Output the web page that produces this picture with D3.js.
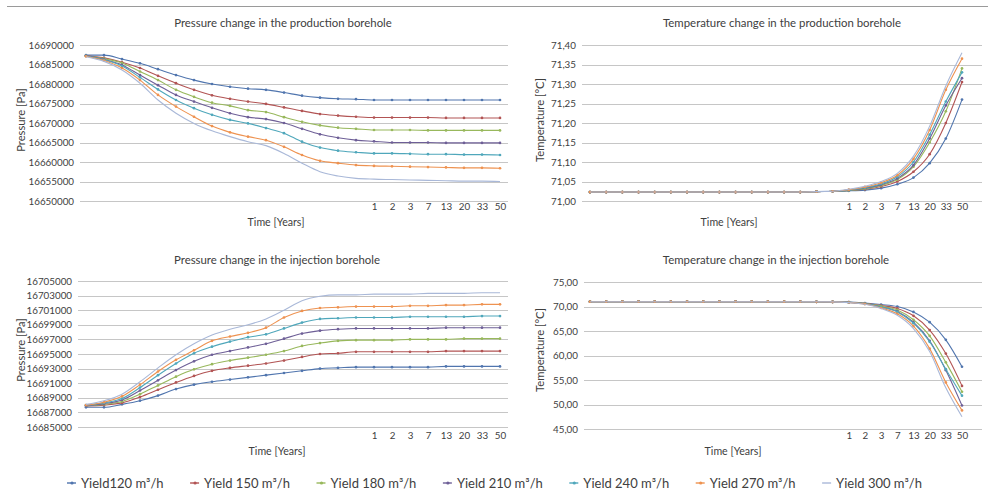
<!DOCTYPE html>
<html lang="en">
<head>
    <meta charset="UTF-8">
    <title>Borehole pressure and temperature</title>
    <style>
        html, body { margin: 0; padding: 0; background: #fff; overflow: hidden; }
        text { font-family: Lato, "Open Sans", sans-serif; fill: #404040; }
        .grid line { stroke: #c6c6c6; stroke-width: 1; shape-rendering: crispEdges; }
    </style>
</head>
<body>
<script src="https://cdn.jsdelivr.net/npm/d3@7/dist/d3.min.js"></script>
<script>

    // x categories: 16 unlabeled steps, then years
    const xLabels = ['', '', '', '', '', '', '', '', '', '', '', '', '', '', '', '',
        '1', '2', '3', '7', '13', '20', '33', '50']

    const yieldNames = ['Yield120 m³/h', 'Yield 150 m³/h', 'Yield 180 m³/h', 'Yield 210 m³/h',
        'Yield 240 m³/h', 'Yield 270 m³/h', 'Yield 300 m³/h']
    const colors = ['#5075ae', '#b25454', '#98b85c', '#6e5f97', '#4fa7bb', '#ee9250', '#a9b8d8']

    const pressureProduction = [
        [16687400, 16687400, 16686400, 16685300, 16683800, 16682300, 16681000, 16680000, 16679300, 16678800, 16678500, 16677800, 16677000, 16676500, 16676200, 16676100, 16675900, 16675900, 16675900, 16675900, 16675900, 16675900, 16675900, 16675900],
        [16687200, 16686700, 16685600, 16684100, 16682100, 16680200, 16678500, 16677100, 16676200, 16675500, 16674900, 16674000, 16673100, 16672300, 16671900, 16671600, 16671400, 16671400, 16671400, 16671400, 16671300, 16671300, 16671300, 16671300],
        [16687200, 16686500, 16685400, 16683200, 16681000, 16678500, 16676700, 16675200, 16674400, 16673300, 16672800, 16671500, 16670300, 16669400, 16668800, 16668500, 16668200, 16668200, 16668200, 16668100, 16668100, 16668100, 16668100, 16668100],
        [16687300, 16686300, 16684900, 16682300, 16679700, 16677200, 16675500, 16673900, 16672500, 16671500, 16671000, 16670000, 16668500, 16667100, 16666200, 16665600, 16665300, 16665000, 16665000, 16665000, 16664900, 16664900, 16664900, 16664900],
        [16687200, 16686200, 16684600, 16681700, 16678600, 16675900, 16673800, 16672100, 16670800, 16669900, 16668700, 16667400, 16665200, 16663700, 16662900, 16662500, 16662200, 16662200, 16662100, 16662000, 16662000, 16661900, 16661900, 16661800],
        [16687100, 16686000, 16684100, 16681000, 16677200, 16674200, 16671600, 16669200, 16667600, 16666500, 16665600, 16663900, 16661800, 16660300, 16659700, 16659200, 16659000, 16658900, 16658800, 16658700, 16658600, 16658500, 16658500, 16658400],
        [16687000, 16685800, 16683600, 16680200, 16675900, 16672500, 16669900, 16668000, 16666500, 16665200, 16664200, 16662200, 16659700, 16657500, 16656400, 16655800, 16655600, 16655500, 16655400, 16655300, 16655200, 16655100, 16655100, 16655000]
    ]

    const temperatureProduction = [
        [71.023, 71.023, 71.023, 71.023, 71.023, 71.023, 71.023, 71.023, 71.023, 71.023, 71.023, 71.023, 71.023, 71.023, 71.024, 71.025, 71.026, 71.028, 71.033, 71.043, 71.060, 71.097, 71.160, 71.260],
        [71.023, 71.023, 71.023, 71.023, 71.023, 71.023, 71.023, 71.023, 71.023, 71.023, 71.023, 71.023, 71.023, 71.023, 71.024, 71.025, 71.027, 71.030, 71.037, 71.050, 71.075, 71.120, 71.200, 71.305],
        [71.023, 71.023, 71.023, 71.023, 71.023, 71.023, 71.023, 71.023, 71.023, 71.023, 71.023, 71.023, 71.023, 71.023, 71.024, 71.025, 71.027, 71.031, 71.040, 71.055, 71.088, 71.150, 71.230, 71.340],
        [71.023, 71.023, 71.023, 71.023, 71.023, 71.023, 71.023, 71.023, 71.023, 71.023, 71.023, 71.023, 71.023, 71.023, 71.024, 71.025, 71.028, 71.033, 71.042, 71.058, 71.092, 71.160, 71.245, 71.315],
        [71.023, 71.023, 71.023, 71.023, 71.023, 71.023, 71.023, 71.023, 71.023, 71.023, 71.023, 71.023, 71.023, 71.023, 71.024, 71.025, 71.028, 71.034, 71.044, 71.062, 71.100, 71.170, 71.255, 71.330],
        [71.023, 71.023, 71.023, 71.023, 71.023, 71.023, 71.023, 71.023, 71.023, 71.023, 71.023, 71.023, 71.023, 71.023, 71.024, 71.025, 71.029, 71.036, 71.047, 71.066, 71.108, 71.182, 71.285, 71.365],
        [71.023, 71.023, 71.023, 71.023, 71.023, 71.023, 71.023, 71.023, 71.023, 71.023, 71.023, 71.023, 71.023, 71.023, 71.024, 71.025, 71.030, 71.038, 71.050, 71.071, 71.115, 71.192, 71.295, 71.380]
    ]

    const pressureInjection = [
        [16687700, 16687700, 16688100, 16688600, 16689300, 16690200, 16690800, 16691200, 16691500, 16691800, 16692100, 16692400, 16692700, 16693000, 16693100, 16693200, 16693200, 16693200, 16693200, 16693200, 16693300, 16693300, 16693300, 16693300],
        [16687900, 16688000, 16688300, 16689100, 16690100, 16691100, 16692000, 16692700, 16693100, 16693400, 16693700, 16694100, 16694600, 16695000, 16695100, 16695300, 16695300, 16695300, 16695300, 16695300, 16695400, 16695400, 16695400, 16695400],
        [16687900, 16688100, 16688500, 16689500, 16690700, 16691900, 16692900, 16693600, 16694100, 16694500, 16694900, 16695400, 16696100, 16696500, 16696800, 16696900, 16696900, 16696900, 16697000, 16697000, 16697000, 16697100, 16697100, 16697100],
        [16687900, 16688200, 16688700, 16690000, 16691400, 16692800, 16694000, 16694900, 16695400, 16695900, 16696400, 16697100, 16697800, 16698200, 16698400, 16698500, 16698500, 16698500, 16698500, 16698500, 16698600, 16698600, 16698600, 16698600],
        [16688000, 16688300, 16688900, 16690400, 16692100, 16693700, 16695100, 16696000, 16696700, 16697300, 16697700, 16698500, 16699300, 16699800, 16699900, 16700000, 16700000, 16700000, 16700100, 16700100, 16700100, 16700100, 16700200, 16700200],
        [16688000, 16688400, 16689200, 16690800, 16692600, 16694200, 16695500, 16696800, 16697400, 16697900, 16698600, 16700000, 16700900, 16701300, 16701400, 16701500, 16701500, 16701500, 16701600, 16701600, 16701700, 16701700, 16701800, 16701800],
        [16688100, 16688600, 16689500, 16691200, 16693100, 16694900, 16696400, 16697600, 16698400, 16699000, 16699800, 16701000, 16702300, 16702900, 16703100, 16703100, 16703200, 16703200, 16703200, 16703300, 16703300, 16703300, 16703400, 16703400]
    ]

    const temperatureInjection = [
        [70.98, 70.98, 70.98, 70.98, 70.98, 70.98, 70.98, 70.98, 70.98, 70.98, 70.98, 70.98, 70.98, 70.98, 70.96, 70.94, 70.90, 70.70, 70.40, 70.00, 68.90, 66.80, 63.20, 57.70],
        [70.98, 70.98, 70.98, 70.98, 70.98, 70.98, 70.98, 70.98, 70.98, 70.98, 70.98, 70.98, 70.98, 70.98, 70.96, 70.94, 70.88, 70.65, 70.20, 69.60, 68.10, 65.20, 60.40, 53.80],
        [70.98, 70.98, 70.98, 70.98, 70.98, 70.98, 70.98, 70.98, 70.98, 70.98, 70.98, 70.98, 70.98, 70.98, 70.96, 70.94, 70.86, 70.60, 70.10, 69.30, 67.30, 64.00, 58.60, 52.60],
        [70.98, 70.98, 70.98, 70.98, 70.98, 70.98, 70.98, 70.98, 70.98, 70.98, 70.98, 70.98, 70.98, 70.98, 70.96, 70.94, 70.85, 70.55, 69.90, 69.00, 66.80, 63.00, 57.00, 49.80],
        [70.98, 70.98, 70.98, 70.98, 70.98, 70.98, 70.98, 70.98, 70.98, 70.98, 70.98, 70.98, 70.98, 70.98, 70.96, 70.94, 70.84, 70.55, 69.90, 68.90, 66.60, 62.80, 57.20, 51.80],
        [70.98, 70.98, 70.98, 70.98, 70.98, 70.98, 70.98, 70.98, 70.98, 70.98, 70.98, 70.98, 70.98, 70.98, 70.96, 70.94, 70.82, 70.50, 69.70, 68.50, 66.00, 61.40, 54.50, 48.80],
        [70.98, 70.98, 70.98, 70.98, 70.98, 70.98, 70.98, 70.98, 70.98, 70.98, 70.98, 70.98, 70.98, 70.98, 70.96, 70.94, 70.80, 70.45, 69.60, 68.20, 65.50, 60.80, 53.40, 47.50]
    ]

    const pressureTicksProd = d3.range(16650000, 16690001, 5000)
    const temperatureTicksProd = d3.range(71.0, 71.401, 0.05)
    const pressureTicksInj = d3.range(16685000, 16705001, 2000)
    const temperatureTicksInj = d3.range(45, 75.01, 5)

    const width = 988
    const height = 494

    const commaLocale = d3.formatLocale({ decimal: ',', thousands: '.', grouping: [3], currency: ['', ''] })
    const fmtPressure = d3.format('d')
    const fmtTemp = commaLocale.format('.2f')

    const svg = d3.select('body')
        .append('svg')
        .attr('width', width)
        .attr('height', height)

    // thin rule across the top
    svg.append('line')
        .attr('x1', 7).attr('x2', width)
        .attr('y1', 6.5).attr('y2', 6.5)
        .attr('stroke', '#9a9a9a')

    const panels = [
        {
            title: 'Pressure change in the production borehole', yLabel: 'Pressure [Pa]',
            data: pressureProduction, ticks: pressureTicksProd, fmt: fmtPressure,
            grid: [80, 508], points: [86, 500], yRange: [201, 45],
            titleX: 283, titleY: 27, yLabelX: 21, yLabelY: 120, xTickY: 213, timeX: 276, timeY: 226
        },
        {
            title: 'Temperature change in the production borehole', yLabel: 'Temperature [°C]',
            data: temperatureProduction, ticks: temperatureTicksProd, fmt: fmtTemp,
            grid: [582, 982], points: [590, 962], yRange: [201, 45],
            titleX: 782, titleY: 27, yLabelX: 540, yLabelY: 120, xTickY: 213, timeX: 729, timeY: 226
        },
        {
            title: 'Pressure change in the injection borehole', yLabel: 'Pressure [Pa]',
            data: pressureInjection, ticks: pressureTicksInj, fmt: fmtPressure,
            grid: [78, 508], points: [86, 500], yRange: [427, 281],
            titleX: 277, titleY: 264, yLabelX: 21, yLabelY: 350, xTickY: 442, timeX: 277, timeY: 455
        },
        {
            title: 'Temperature change in the injection borehole', yLabel: 'Temperature [°C]',
            data: temperatureInjection, ticks: temperatureTicksInj, fmt: fmtTemp,
            grid: [584, 982], points: [590, 962], yRange: [429, 282],
            titleX: 776, titleY: 264, yLabelX: 540, yLabelY: 350, xTickY: 442, timeX: 733, timeY: 455
        }
    ]

    panels.forEach(drawPanel)

    function drawPanel(p) {
        const g = svg.append('g')

        const x = d3.scalePoint()
            .domain(d3.range(xLabels.length))
            .range(p.points)

        const y = d3.scaleLinear()
            .domain(d3.extent(p.ticks))
            .range(p.yRange)

        // gridlines + y tick labels
        const yAxis = g.append('g')
            .attr('class', 'grid')
            .attr('transform', `translate(${p.grid[0]}, 0)`)
            .call(d3.axisLeft(y)
                .tickValues(p.ticks)
                .tickFormat(p.fmt)
                .tickSize(-(p.grid[1] - p.grid[0]))
                .tickPadding(6))
        yAxis.select('.domain').remove()
        yAxis.selectAll('.tick text')
            .attr('font-size', 9.8)
            .attr('font-family', 'Lato, sans-serif')
            .attr('fill', '#3a3a3a')

        // x tick labels, no axis line
        const xAxis = g.append('g')
            .attr('transform', `translate(0, ${p.xTickY - 10})`)
            .call(d3.axisBottom(x)
                .tickFormat((i) => xLabels[i])
                .tickSize(0)
                .tickPadding(0))
        xAxis.select('.domain').remove()
        xAxis.selectAll('.tick text')
            .attr('font-size', 9.8)
            .attr('font-family', 'Lato, sans-serif')
            .attr('fill', '#3a3a3a')

        g.append('text')
            .attr('x', p.titleX).attr('y', p.titleY)
            .attr('text-anchor', 'middle')
            .attr('font-size', 11.4)
            .text(p.title)

        g.append('text')
            .attr('x', p.timeX).attr('y', p.timeY)
            .attr('text-anchor', 'middle')
            .attr('font-size', 10.6)
            .text('Time [Years]')

        g.append('text')
            .attr('transform', `translate(${p.yLabelX}, ${p.yLabelY}) rotate(-90)`)
            .attr('text-anchor', 'middle')
            .attr('dy', '0.35em')
            .attr('font-size', 11.2)
            .text(p.yLabel)

        const line = d3.line()
            .x((d, i) => x(i))
            .y((d) => y(d))
            .curve(d3.curveMonotoneX)

        const series = g.selectAll('.series')
            .data(p.data)
            .enter()
            .append('g')
            .attr('class', 'series')
            .attr('fill', (d, i) => colors[i])

        series.append('path')
            .attr('fill', 'none')
            .attr('stroke', (d, i) => colors[i])
            .attr('stroke-width', 1.1)
            .attr('d', line)

        series.filter((d, i) => i < 6)
            .selectAll('circle')
            .data((d) => d)
            .enter()
            .append('circle')
            .attr('cx', (d, i) => x(i))
            .attr('cy', (d) => y(d))
            .attr('r', 1.35)
    }

    // legend along the bottom, spread between x=67 and x=922
    const legend = svg.append('g')
    const items = yieldNames.map((name, i) => {
        const item = legend.append('g')
        item.append('line')
            .attr('x1', 0).attr('x2', 9)
            .attr('stroke', colors[i])
            .attr('stroke-width', 1.4)
        if (i < 6) {
            item.append('circle')
                .attr('cx', 5).attr('r', 1.6)
                .attr('fill', colors[i])
        }
        const t = item.append('text')
            .attr('x', 14)
            .attr('dy', '0.35em')
            .attr('font-size', 13)
            .text(name)
        return { item, w: 14 + t.node().getComputedTextLength() }
    })
    const totalW = d3.sum(items, (d) => d.w)
    const gap = (922 - 67 - totalW) / (items.length - 1)
    let lx = 67
    items.forEach((d) => {
        d.item.attr('transform', `translate(${lx}, 483)`)
        lx += d.w + gap
    })

</script>
</body>
</html>
